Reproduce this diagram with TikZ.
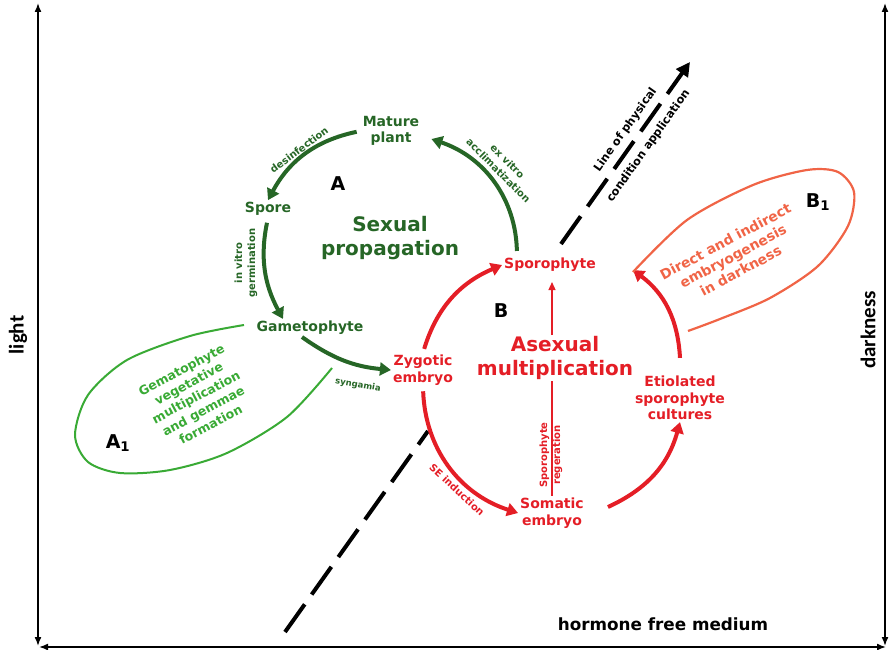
\documentclass[tikz,border=0pt]{standalone}
\usepackage{fontspec}
\setmainfont{DejaVu Sans}
\newfontfamily\axisfont{Carlito}
\usetikzlibrary{arrows.meta}
\definecolor{sexgreen}{RGB}{38,102,38}
\definecolor{vegreen}{RGB}{57,170,53}
\definecolor{asexred}{RGB}{228,30,38}
\definecolor{embryoorange}{RGB}{240,100,70}

\tikzset{
  stage/.style={font=\bfseries\fontsize{14}{16.5}\selectfont, align=center, inner sep=2pt},
  cycletitle/.style={font=\bfseries\fontsize{20}{24}\selectfont, align=center, inner sep=1pt},
  steplabel/.style={font=\bfseries\fontsize{10}{13}\selectfont, align=center, inner sep=1pt},
  ovaltext/.style={font=\bfseries\fontsize{12.5}{15.5}\selectfont, align=center},
  letter/.style={font=\bfseries\fontsize{19}{22}\selectfont, black},
  axislabel/.style={font=\axisfont\bfseries\fontsize{21}{24}\selectfont, black},
  axis/.style={line width=1.6pt, {Latex[length=9pt,width=7pt]}-{Latex[length=9pt,width=7pt]}},
  sexarrow/.style={sexgreen, line width=4pt, -{Triangle[length=11pt,width=13pt]}},
  asexarrow/.style={asexred, line width=4pt, -{Triangle[length=11pt,width=13pt]}},
  asexthin/.style={asexred, line width=1.4pt},
  condline/.style={black, line width=4pt, dash pattern=on 34pt off 12pt}
}

\begin{document}
\begin{tikzpicture}[x=1pt, y=-1pt]
\useasboundingbox (0,0) rectangle (889,650);
% Axes
    \draw[axis] (38,646) -- (38,3);
    \draw[axis] (885,646) -- (885,3);
    \draw[axis] (39,647) -- (886,647);
    \node[axislabel, rotate=90] (light) at (18,335) {light};
    \node[axislabel, rotate=90] (dark) at (868,330) {darkness};
    \node[font=\bfseries\fontsize{16.8}{20}\selectfont] (medium) at (663,624) {hormone free medium};
% Line of physical condition application
    \coordinate (cl0) at (285,632);
    \coordinate (cl1) at (428,431);
    \coordinate (cl2) at (561,244);
    \coordinate (cl3) at (690,62);
    \draw[condline] (cl0) -- (cl1);
    \draw[condline, -{Triangle[length=14pt,width=14pt]}] (cl2) -- (cl3);
    \node[font=\bfseries\fontsize{11.3}{28}\selectfont, align=center, rotate=54.6] (condtext) at (637,138) {Line of physical\\condition application};
% Stages
    \node[stage, sexgreen] (mature) at (391,131) {Mature\\plant};
    \node[stage, sexgreen] (spore) at (268,209) {Spore};
    \node[stage, sexgreen] (gameto) at (310,328) {Gametophyte};
    \node[stage, asexred] (zygote) at (423,370) {Zygotic\\embryo};
    \node[stage, asexred] (sporo) at (550,265) {Sporophyte};
    \node[stage, asexred] (etiol) at (680,398) {Etiolated\\sporophyte\\cultures};
    \node[stage, asexred] (somatic) at (552,513) {Somatic\\embryo};
    \node[cycletitle, sexgreen] (sexual) at (390,238) {Sexual\\propagation};
    \node[cycletitle, asexred] (asexual) at (555,358) {Asexual\\multiplication};
    \node[letter] (cycA) at (338,184) {A};
    \node[letter] (cycB) at (501,311) {B};
    \node[letter] (cycA1) at (118,443) {A\textsubscript{1}};
    \node[letter] (cycB1) at (818,202) {B\textsubscript{1}};
% Sexual propagation
    \draw[sexarrow, shorten <=4pt] (mature.west) to[bend right=25] (spore.north);
    \draw[sexarrow, shorten <=5pt] (spore.south) to[bend right=20] ([xshift=-27pt]gameto.north);
    \draw[sexarrow] ([xshift=-8pt]gameto.south) to[bend right=15] (zygote.west);
    \draw[sexarrow, shorten <=5pt] ([xshift=-33pt]sporo.north) to[bend right=35] ([xshift=10pt,yshift=-8pt]mature.east);
    \node[steplabel, sexgreen, rotate=37] (desinf) at (299,150) {desinfection};
    \node[steplabel, sexgreen, rotate=90] (germ) at (246,263) {in vitro\\germination};
    \node[steplabel, sexgreen, rotate=-45] (acclim) at (503,166) {ex vitro\\acclimatization};
    \node[steplabel, sexgreen, rotate=-10, font=\bfseries\fontsize{8.5}{10}\selectfont] (syng) at (358,385) {syngamia};
% Asexual multiplication
    \draw[asexarrow, shorten <=4pt] (zygote.north) to[bend left=25] (sporo.west);
    \draw[asexarrow] ([yshift=16pt]etiol.north) to[bend right=25] ([xshift=35pt,yshift=-5pt]sporo.east);
    \draw[asexarrow, shorten <=4pt] (zygote.south) to[bend right=35] (somatic.west);
    \draw[asexarrow] ([xshift=22pt,yshift=6pt]somatic.east) to[bend right=25] (etiol.south);
    \draw[asexthin] (somatic.north) -- (somatic.north |- asexual.south);
    \draw[asexthin, -{Triangle[length=8pt,width=7pt]}, shorten >=8pt] (somatic.north |- asexual.north) -- (somatic.north |- sporo.south);
    \node[steplabel, asexred, rotate=-43] (seind) at (457,490) {SE induction};
    \node[steplabel, asexred, rotate=90] (regen) at (551,455) {Sporophyte\\regeration};
% Side loops
    \draw[vegreen, line width=2pt] plot[smooth] coordinates {(244,325) (190,336) (127,360) (88,395) (75,435) (88,462) (120,473) (170,470) (227,453) (287,417) (332,368)};
    \draw[embryoorange, line width=2.2pt] plot[smooth] coordinates {(633,272) (687,220) (753,185) (807,170) (838,172) (854,192) (848,226) (818,266) (770,298) (720,319) (688,331)};
    \node[ovaltext, vegreen, rotate=28] (vegtext) at (196,397) {Gematophyte\\vegetative\\multiplication\\and gemmae\\formation};
    \node[ovaltext, embryoorange, rotate=28, font=\bfseries\fontsize{13.8}{16.5}\selectfont] (embtext) at (733,256) {Direct and indirect\\embryogenesis\\in darkness};
\end{tikzpicture}
\end{document}
